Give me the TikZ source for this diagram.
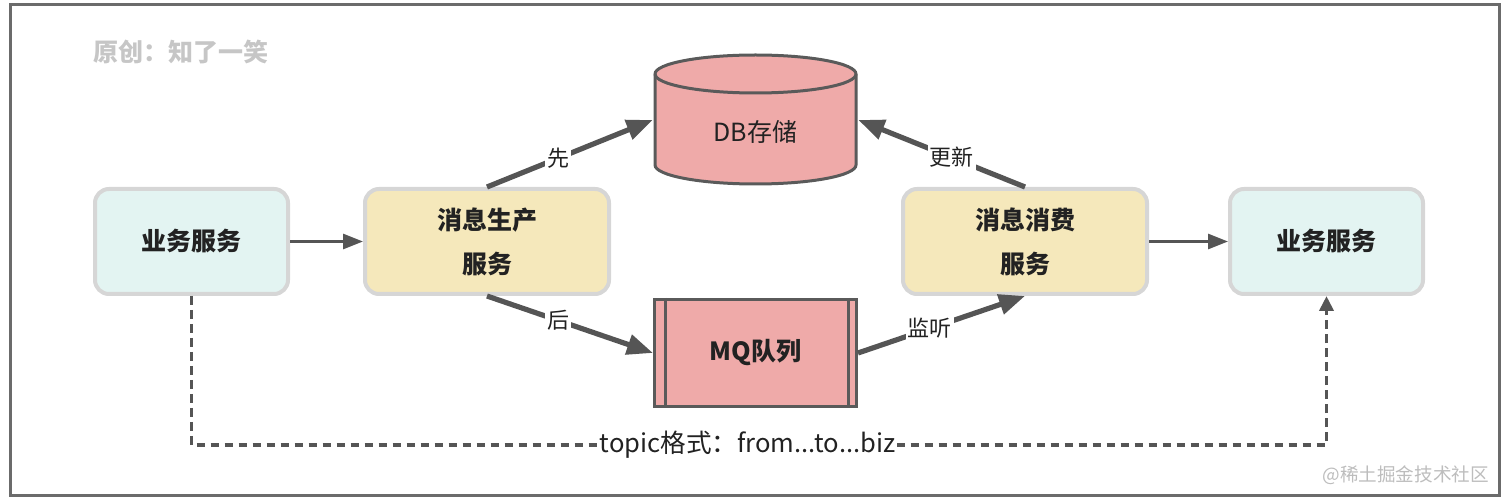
\documentclass[tikz,border=0pt]{standalone}
\usepackage{fontspec}
\setmainfont{Noto Sans CJK SC}
\usetikzlibrary{arrows.meta,calc}
\definecolor{framec}{HTML}{6B6B6B}
\definecolor{arr}{HTML}{555555}
\definecolor{boxb}{HTML}{D6D6D6}
\definecolor{cyanf}{HTML}{E3F4F2}
\definecolor{yelf}{HTML}{F5E8BB}
\definecolor{pinkf}{HTML}{EFAAA9}
\definecolor{darkb}{HTML}{5A5A5A}
\definecolor{txt}{HTML}{222222}
\definecolor{wm}{HTML}{C6C6C6}
\definecolor{wm2}{HTML}{BDBDBD}
\begin{document}
\begin{tikzpicture}[x=0.5pt,y=-0.5pt,
  svc/.style={draw=boxb, line width=2pt, rounded corners=7pt, minimum height=52.5pt,
    align=center, font=\fontsize{12.5}{22}\selectfont\bfseries, text=txt, inner sep=0pt},
  biz/.style={svc, fill=cyanf, minimum width=96.5pt},
  msg/.style={svc, fill=yelf, minimum width=122pt},
  thin/.style={draw=arr, line width=1.5pt, -{Triangle[length=10pt,width=7.5pt]}},
  thick/.style={draw=arr, line width=2.6pt, -{Triangle[length=13pt,width=10pt]}},
  lab/.style={fill=white, inner sep=1pt, font=\fontsize{11}{12}\selectfont, text=txt},
  dsh/.style={draw=arr, line width=1.9pt, dash pattern=on 4.3pt off 2.7pt, -{Triangle[length=7.5pt,width=7pt]}}
]
\useasboundingbox (0,0) rectangle (1512,502);
\draw[framec, line width=1.5pt] (10,5) rectangle (1499,496);

\node[text=wm, font=\fontsize{12.5}{14}\selectfont\bfseries, anchor=west] (orig) at (86,52) {原创：知了一笑};
\node[text=wm2, font=\fontsize{9.3}{11}\selectfont, anchor=east] (juejin) at (1496,475) {@稀土掘金技术社区};

% nodes
\node[biz] (b1) at (191.5,241.5) {业务服务};
\node[msg] (prod) at (487,241.5) {消息生产\\服务};
\node[msg] (cons) at (1025,241.5) {消息消费\\服务};
\node[biz] (b2) at (1326.5,241.5) {业务服务};

% DB cylinder
\node[minimum width=102.5pt, minimum height=60pt, inner sep=0pt] (db) at (755.5,120) {};
\filldraw[fill=pinkf, draw=darkb, line width=1.5pt]
  (655,74) -- (655,165) arc[start angle=180, end angle=0, x radius=100.5, y radius=19]
  -- (856,74) arc[start angle=0, end angle=-180, x radius=100.5, y radius=19] -- cycle;
\draw[darkb, line width=1.5pt] (655,74) arc[start angle=180, end angle=0, x radius=100.5, y radius=19];
\node[font=\fontsize{12.5}{14}\selectfont, text=txt] (dbt) at (755.5,132) {DB存储};

% MQ
\node[draw=darkb, fill=pinkf, line width=1.5pt, minimum width=101pt, minimum height=53.5pt,
  font=\fontsize{12.5}{14}\selectfont\bfseries, text=txt, inner sep=0pt] (mq) at (755.5,353) {MQ队列};
\draw[darkb, line width=1.5pt] ($(mq.north west)+(12,0)$) -- ($(mq.south west)+(12,0)$);
\draw[darkb, line width=1.5pt] ($(mq.north east)+(-10,0)$) -- ($(mq.south east)+(-10,0)$);

% arrows
\draw[thin] (b1.east) -- (prod.west);
\draw[thin] (cons.east) -- (b2.west);
\draw[thick] (prod.north) -- node[lab, pos=0.43] {先} (db.west);
\draw[thick] (prod.south) -- node[lab, pos=0.43] {后} (mq.west);
\draw[thick] (mq.east) -- node[lab, pos=0.43] {监听} (cons.south);
\draw[thick] (cons.north) -- node[lab, pos=0.44] {更新} (db.east);

% dashed
\coordinate (dy) at (0,445);
\draw[dsh] (b1.south) -- (b1.south |- dy)
  -- node[fill=white, inner sep=1pt, pos=0.49, font=\fontsize{12.8}{14}\selectfont, text=txt] (topic) {topic格式：from...to...biz}
  (b2.south |- dy) -- (b2.south);
\end{tikzpicture}
\end{document}
